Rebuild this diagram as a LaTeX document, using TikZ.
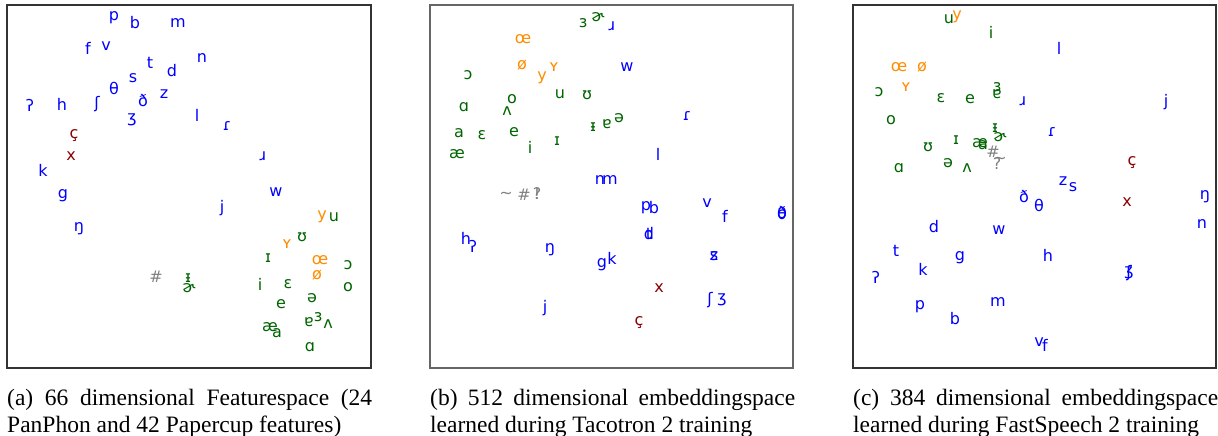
\documentclass[tikz,border=0pt]{standalone}
\usepackage{fontspec}
\setmainfont{Liberation Serif}
\newfontfamily\ipafont{DejaVu Sans}
\usetikzlibrary{positioning}
\definecolor{consblue}{HTML}{0000FF}
\definecolor{vowgreen}{HTML}{006400}
\definecolor{roundorange}{HTML}{FF8C00}
\definecolor{fricred}{HTML}{8B0000}
\definecolor{tokengray}{HTML}{808080}

\tikzset{
  phon/.style={font=\ipafont\fontsize{16}{16}\selectfont, inner sep=0pt},
  cons/.style={phon, text=consblue},
  vow/.style={phon, text=vowgreen},
  rvow/.style={phon, text=roundorange},
  fric/.style={phon, text=fricred},
  tok/.style={phon, text=tokengray},
  panel/.style={draw=black!80, line width=1.3pt},
  capt/.style={font=\fontsize{23.5}{27}\selectfont, text width=365pt, align=justify, inner sep=0pt, anchor=north west}
}

\begin{document}
\begin{tikzpicture}[x=1pt, y=-1pt]
    \useasboundingbox (0,0) rectangle (1218,436);

    % Panel (a): feature space
    \draw[panel] (7,5) rectangle (371,368);
    \foreach \x/\y/\t [count=\i] in {114/18/p, 135/23/b, 178/23/m, 88/48/f, 106/46/v, 150/63/t, 172/71/d, 202/58/n, 133/78/s, 114/88/θ, 164/94/z, 30/105/ʔ, 62/104/h, 97/104/ʃ, 143/101/ð, 132/120/ʒ, 197/115/l, 227/126/ɾ, 263/156/ɹ, 43/170/k, 276/192/w, 63/196/g, 222/208/j, 79/229/ŋ} {
        \node[cons] (a-c\i) at (\x,\y) {\t};
    }
    \foreach \x/\y/\t [count=\i] in {74/136/ç, 71/156/x} {
        \node[fric] (a-f\i) at (\x,\y) {\t};
    }
    \foreach \x/\y/\t [count=\i] in {322/217/y, 287/244/ʏ, 320/260/œ, 317/275/ø} {
        \node[rvow] (a-r\i) at (\x,\y) {\t};
    }
    \foreach \x/\y/\t [count=\i] in {334/217/u, 302/237/ʊ, 268/258/ɪ, 348/265/ɔ, 188/278/ᵻ, 189/288/ɚ, 260/284/i, 288/284/ɛ, 348/287/o, 281/304/e, 312/298/ə, 309/322/ɐ, 318/317/ɜ, 328/324/ʌ, 270/327/æ, 277/333/a, 310/347/ɑ} {
        \node[vow] (a-v\i) at (\x,\y) {\t};
    }
    \node[tok] (a-t1) at (156,277) {\#};

    % Panel (b): Tacotron 2 embeddings
    \draw[panel, draw=black!60, line width=1.8pt] (430,5) rectangle (793,368);
    \foreach \x/\y/\t [count=\i] in {612/26/ɹ, 627/67/w, 687/116/ɾ, 658/154/l, 600/180/n, 610/180/m, 646/208/p, 654/208/b, 707/203/v, 725/216/f, 782/213/θ, 782/213/ð, 649/234/t, 649/234/d, 466/238/h, 473/246/ʔ, 550/250/ŋ, 602/265/g, 612/258/k, 714/256/s, 714/256/z, 710/300/ʃ, 722/300/ʒ, 545/308/j} {
        \node[cons] (b-c\i) at (\x,\y) {\t};
    }
    \foreach \x/\y/\t [count=\i] in {659/288/x, 639/323/ç} {
        \node[fric] (b-f\i) at (\x,\y) {\t};
    }
    \foreach \x/\y/\t [count=\i] in {523/39/œ, 522/65/ø, 554/67/ʏ, 542/78/y} {
        \node[rvow] (b-r\i) at (\x,\y) {\t};
    }
    \foreach \x/\y/\t [count=\i] in {583/23/ɜ, 598/17/ɚ, 468/75/ɔ, 560/94/u, 587/95/ʊ, 512/99/o, 507/111/ʌ, 464/107/ɑ, 459/133/a, 482/135/ɛ, 514/132/e, 593/127/ᵻ, 607/124/ɐ, 619/118/ə, 557/141/ɪ, 530/147/i, 457/154/æ} {
        \node[vow] (b-v\i) at (\x,\y) {\t};
    }
    \foreach \x/\y/\t [count=\i] in {506/195/\textasciitilde, 524/195/\#, 537/194/?, 537/194/!} {
        \node[tok] (b-t\i) at (\x,\y) {\t};
    }

    % Panel (c): FastSpeech 2 embeddings
    \draw[panel] (853,5) rectangle (1216,368);
    \foreach \x/\y/\t [count=\i] in {1059/48/l, 1023/101/ɹ, 1166/102/j, 1052/132/ɾ, 1063/181/z, 1073/187/s, 1205/197/ŋ, 1024/197/ð, 1039/205/θ, 1202/224/n, 934/227/d, 999/230/w, 896/251/t, 1048/255/h, 960/258/g, 923/269/k, 876/277/ʔ, 1129/273/ʃ, 1129/273/ʒ, 998/302/m, 920/307/p, 955/319/b, 1039/342/v, 1045/345/f} {
        \node[cons] (c-c\i) at (\x,\y) {\t};
    }
    \foreach \x/\y/\t [count=\i] in {1132/163/ç, 1127/202/x} {
        \node[fric] (c-f\i) at (\x,\y) {\t};
    }
    \foreach \x/\y/\t [count=\i] in {957/17/y, 899/67/œ, 922/67/ø, 906/87/ʏ} {
        \node[rvow] (c-r\i) at (\x,\y) {\t};
    }
    \foreach \x/\y/\t [count=\i] in {949/19/u, 991/32/i, 879/92/ɔ, 941/98/ɛ, 970/99/e, 997/87/ɜ, 997/94/ɐ, 891/120/o, 995/128/ᵻ, 1000/137/ɚ, 956/140/ɪ, 980/143/æ, 983/145/a, 928/147/ʊ, 899/168/ɑ, 948/163/ə, 967/168/ʌ} {
        \node[vow] (c-v\i) at (\x,\y) {\t};
    }
    \foreach \x/\y/\t [count=\i] in {993/152/\#, 1000/160/\textasciitilde, 997/164/?} {
        \node[tok] (c-t\i) at (\x,\y) {\t};
    }

    % Captions
    \node[capt] (cap-a) at (7,389) {(a) 66 dimensional Featurespace (24 PanPhon and 42 Papercup features)};
    \node[capt] (cap-b) at (430,389) {(b) 512 dimensional embeddingspace learned during Tacotron 2 training};
    \node[capt] (cap-c) at (853,389) {(c) 384 dimensional embeddingspace learned during FastSpeech 2 training};
\end{tikzpicture}
\end{document}
